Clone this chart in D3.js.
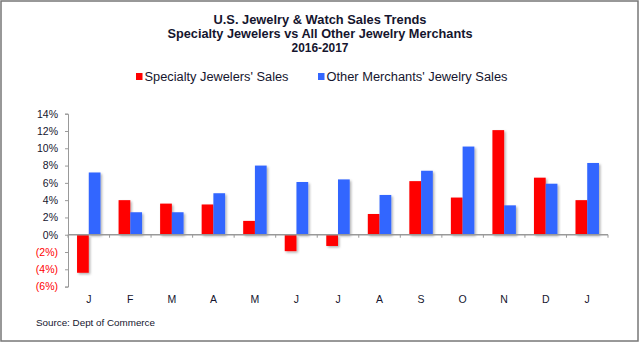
<!DOCTYPE html>
<html>
<head>
<meta charset="utf-8">
<script src="https://cdn.jsdelivr.net/npm/d3@7"></script>
<style>
  body { margin: 0; background: #fff; }
</style>
</head>
<body>
<div id="chart"></div>
<script>
// Chart data (monthly % change, 2016-2017)
const months = ["J", "F", "M", "A", "M", "J", "J", "A", "S", "O", "N", "D", "J"];
const specialtySales = [-4.4, 4.0, 3.6, 3.5, 1.6, -1.9, -1.3, 2.4, 6.2, 4.3, 12.1, 6.6, 4.0];
const otherSales = [7.2, 2.6, 2.6, 4.8, 8.0, 6.1, 6.4, 4.6, 7.4, 10.2, 3.4, 5.9, 8.3];
const yTicks = [-6, -4, -2, 0, 2, 4, 6, 8, 10, 12, 14];
const seriesNames = ["Specialty Jewelers' Sales", "Other Merchants' Jewelry Sales"];
const seriesColors = ["#ff0000", "#3366ff"];

const width = 640;
const height = 344;
const textColor = "#15152e";

const svg = d3.select("#chart")
    .append("svg")
    .attr("width", width)
    .attr("height", height)
    .style("font-family", "'Liberation Sans', Arial, sans-serif");

// drop shadow for the bars
const defs = svg.append("defs");
defs.append("filter")
    .attr("id", "shadow")
    .attr("x", "-20%").attr("y", "-20%")
    .attr("width", "150%").attr("height", "150%")
    .append("feDropShadow")
    .attr("dx", 1.5)
    .attr("dy", 1.5)
    .attr("stdDeviation", 1)
    .attr("flood-color", "#000")
    .attr("flood-opacity", 0.3);

// outer frame
svg.append("rect")
    .attr("x", 1).attr("y", 1)
    .attr("width", 637).attr("height", 340)
    .attr("fill", "#fff")
    .attr("stroke", "#777")
    .attr("stroke-width", 1.5);

// Title lines
const titleLines = [
    { text: "U.S. Jewelry & Watch Sales Trends", y: 24, len: 213 },
    { text: "Specialty Jewelers vs All Other Jewelry Merchants", y: 38, len: 305 },
    { text: "2016-2017", y: 52, len: 57 }
];
svg.append("g")
    .selectAll("text")
    .data(titleLines)
    .join("text")
    .attr("x", 320)
    .attr("y", d => d.y)
    .attr("text-anchor", "middle")
    .attr("fill", textColor)
    .style("font-size", "13px")
    .style("font-weight", "bold")
    .attr("textLength", d => d.len)
    .attr("lengthAdjust", "spacingAndGlyphs")
    .text(d => d.text);

// Legend
const legendItems = [
    { x: 136, len: 144 },
    { x: 318, len: 181 }
];
const legend = svg.append("g")
    .selectAll("g")
    .data(legendItems)
    .join("g")
    .attr("transform", d => `translate(${d.x},73)`);
legend.append("rect")
    .attr("width", 6.5)
    .attr("height", 7)
    .attr("fill", (d, i) => seriesColors[i]);
legend.append("text")
    .attr("x", 8.5)
    .attr("y", 8)
    .attr("fill", textColor)
    .style("font-size", "12.5px")
    .attr("textLength", d => d.len)
    .attr("lengthAdjust", "spacingAndGlyphs")
    .text((d, i) => seriesNames[i]);

// Scales
const x0 = d3.scaleBand()
    .domain(d3.range(months.length))
    .range([68, 608]);

const x1 = d3.scaleBand()
    .domain([0, 1])
    .range([0, x0.bandwidth()])
    .paddingOuter(0.77);

const y = d3.scaleLinear()
    .domain([-6, 14])
    .range([286.6, 113.7]);

// Bars
const barData = months.map((m, i) => ({ i, values: [specialtySales[i], otherSales[i]] }));

svg.append("g")
    .selectAll("g")
    .data(barData)
    .join("g")
    .attr("transform", d => `translate(${x0(d.i)},0)`)
    .selectAll("rect")
    .data(d => d.values.map((v, k) => ({ k, v })))
    .join("rect")
    .attr("x", d => x1(d.k))
    .attr("width", x1.bandwidth())
    .attr("y", d => y(Math.max(0, d.v)))
    .attr("height", d => Math.abs(y(d.v) - y(0)))
    .attr("fill", d => seriesColors[d.k])
    .attr("filter", "url(#shadow)");

// Y axis
const yAxis = svg.append("g")
    .attr("transform", "translate(68,0)")
    .call(d3.axisLeft(y)
        .tickValues(yTicks)
        .tickSize(3)
        .tickPadding(7)
        .tickFormat(d => d < 0 ? `(${Math.abs(d)}%)` : `${d}%`));
yAxis.select(".domain").attr("stroke", "#999");
yAxis.selectAll(".tick line").attr("stroke", "#999");
yAxis.selectAll(".tick text")
    .attr("fill", d => d < 0 ? "#ff0000" : textColor)
    .style("font-size", "10.5px")
    .style("font-family", "'Liberation Sans', Arial, sans-serif");

// Zero line with category ticks
const xAxis = svg.append("g")
    .attr("transform", `translate(0,${y(0)})`);
xAxis.append("line")
    .attr("x1", 68).attr("x2", 608)
    .attr("stroke", "#999")
    .attr("stroke-width", 1.3);
xAxis.selectAll("line.tk")
    .data(d3.range(months.length + 1))
    .join("line")
    .attr("class", "tk")
    .attr("x1", i => 68 + i * x0.step())
    .attr("x2", i => 68 + i * x0.step())
    .attr("y1", 0).attr("y2", 3)
    .attr("stroke", "#999");

// Month labels
svg.append("g")
    .selectAll("text")
    .data(months)
    .join("text")
    .attr("x", (d, i) => x0(i) + x0.bandwidth() / 2)
    .attr("y", 303)
    .attr("text-anchor", "middle")
    .attr("fill", textColor)
    .style("font-size", "10.5px")
    .text(d => d);

// Source note
svg.append("text")
    .attr("x", 36)
    .attr("y", 326)
    .attr("fill", textColor)
    .style("font-size", "9.5px")
    .attr("textLength", 119)
    .attr("lengthAdjust", "spacingAndGlyphs")
    .text("Source:  Dept of Commerce");
</script>
</body>
</html>
